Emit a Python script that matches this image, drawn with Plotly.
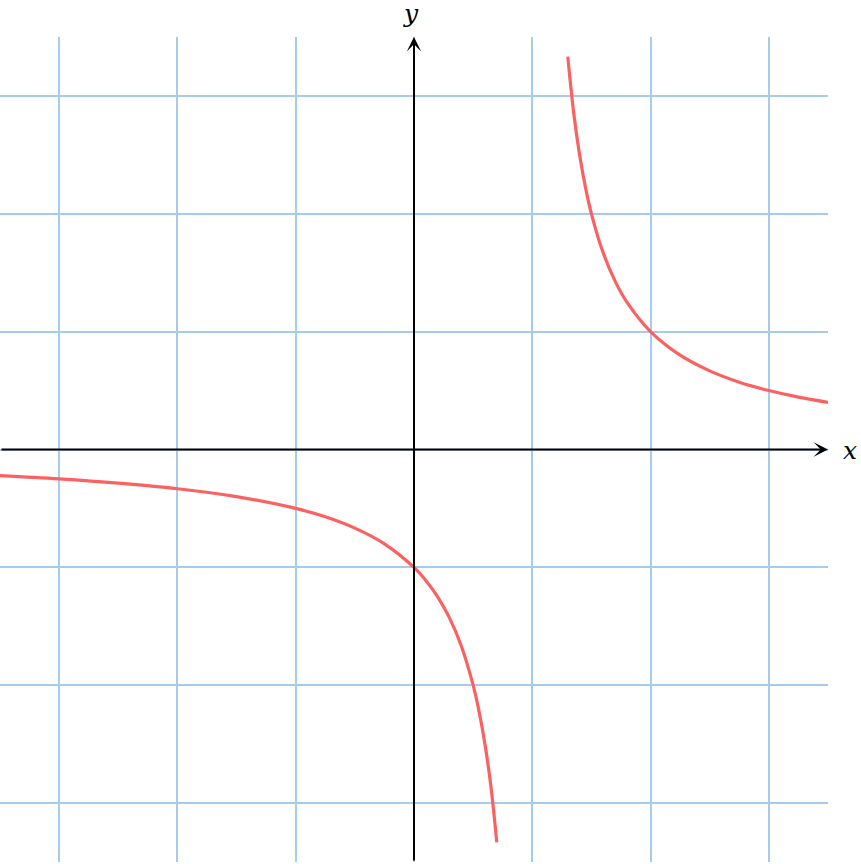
import plotly.graph_objects as go

# Left branch points
left_x = [-3.5, -3.0, -2.5, -2.0, -1.5, -1.0, -0.75, -0.5, -0.25, 0.0, 0.1, 0.2, 0.3, 0.4, 0.5, 0.55, 0.6, 0.65, 0.7]
left_y = [-0.222, -0.25, -0.286, -0.333, -0.4, -0.5, -0.571, -0.667, -0.8, -1.0, -1.111, -1.25, -1.429, -1.667, -2.0, -2.222, -2.5, -2.857, -3.333]

# Right branch points
right_x = [1.3, 1.35, 1.4, 1.45, 1.5, 1.6, 1.7, 1.8, 2.0, 2.25, 2.5, 2.75, 3.0, 3.25, 3.5]
right_y = [3.333, 2.857, 2.5, 2.222, 2.0, 1.667, 1.429, 1.25, 1.0, 0.8, 0.667, 0.571, 0.5, 0.444, 0.4]

axis_min, axis_max = -3.5, 3.5

grid_color = "#a7cbeb"
curve_color = "#fa6161"

fig = go.Figure()
for xs, ys in [(left_x, left_y), (right_x, right_y)]:
    fig.add_trace(go.Scatter(x=xs, y=ys, mode="lines",
                             line=dict(color=curve_color, width=3.2, shape="spline", smoothing=1.0),
                             hoverinfo="skip", showlegend=False))

plot_w, plot_h = 828, 825
fig.update_layout(
    width=861, height=864,
    margin=dict(l=0, r=33, t=37, b=2, autoexpand=False),
    paper_bgcolor="white", plot_bgcolor="white",
    xaxis=dict(range=[axis_min, axis_max], dtick=1, tick0=0, showgrid=True, gridcolor=grid_color, gridwidth=2,
               zeroline=False, showticklabels=False, ticks="", showline=False, fixedrange=True),
    yaxis=dict(range=[axis_min, axis_max], dtick=1, tick0=0, showgrid=True, gridcolor=grid_color, gridwidth=2,
               zeroline=False, showticklabels=False, ticks="", showline=False, fixedrange=True),
    annotations=[
        dict(x=axis_max, y=0, ax=axis_min, ay=0, xref="x", yref="y", axref="x", ayref="y",
             showarrow=True, arrowhead=3, arrowsize=1.2, arrowwidth=2, arrowcolor="black", text=""),
        dict(x=0, y=axis_max, ax=0, ay=axis_min, xref="x", yref="y", axref="x", ayref="y",
             showarrow=True, arrowhead=3, arrowsize=1.2, arrowwidth=2, arrowcolor="black", text=""),
        dict(x=850 / plot_w, y=(862 - 450) / plot_h, xref="paper", yref="paper", text="<i>x</i>",
             showarrow=False, xanchor="center", yanchor="middle",
             font=dict(family="DejaVu Serif", size=25, color="black")),
        dict(x=411 / plot_w, y=(862 - 13) / plot_h, xref="paper", yref="paper", text="<i>y</i>",
             showarrow=False, xanchor="center", yanchor="middle",
             font=dict(family="DejaVu Serif", size=25, color="black")),
    ],
)

fig.write_html("out.html", config={"displayModeBar": False},
               post_script="document.body.style.margin='0';document.body.style.overflow='hidden';")
